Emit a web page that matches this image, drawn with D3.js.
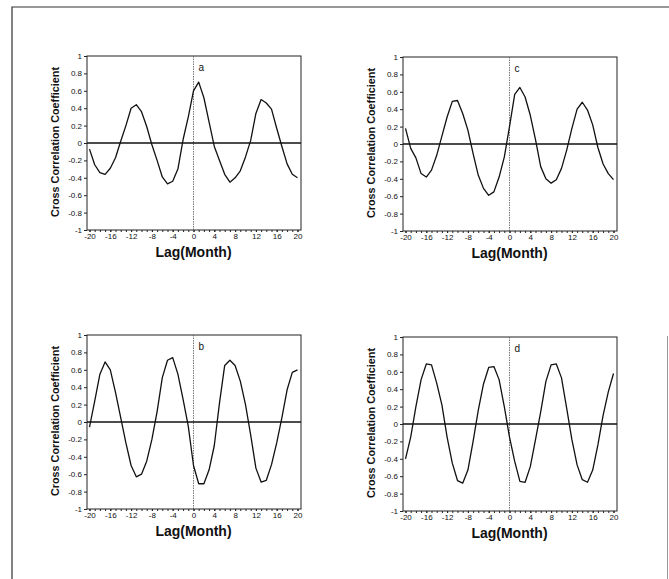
<!DOCTYPE html>
<html>
<head>
<meta charset="utf-8">
<script src="https://cdn.jsdelivr.net/npm/d3@7"></script>
<style>
  body { margin: 0; background: #fff; }
  svg { display: block; }
</style>
</head>
<body>
<div id="chart"></div>
<script>
// lag in months, -20 .. 20
const lags = [-20, -19, -18, -17, -16, -15, -14, -13, -12, -11, -10, -9, -8, -7, -6, -5, -4, -3, -2, -1,
  0, 1, 2, 3, 4, 5, 6, 7, 8, 9, 10, 11, 12, 13, 14, 15, 16, 17, 18, 19, 20];

// cross correlation values
const seriesA = [-0.07, -0.25, -0.34, -0.36, -0.29, -0.17, 0.02, 0.2, 0.4, 0.44, 0.36, 0.19, -0.02, -0.2, -0.39, -0.47, -0.44, -0.3, 0.04, 0.3,
  0.6, 0.7, 0.52, 0.24, -0.04, -0.2, -0.36, -0.45, -0.4, -0.32, -0.16, 0.03, 0.34, 0.5, 0.46, 0.39, 0.17, -0.04, -0.24, -0.36, -0.4];
const seriesB = [-0.06, 0.24, 0.55, 0.69, 0.6, 0.34, 0.05, -0.24, -0.5, -0.63, -0.6, -0.45, -0.2, 0.12, 0.51, 0.71, 0.74, 0.55, 0.26, -0.05,
  -0.5, -0.71, -0.71, -0.55, -0.27, 0.22, 0.65, 0.71, 0.65, 0.47, 0.2, -0.15, -0.53, -0.69, -0.67, -0.49, -0.24, 0.05, 0.37, 0.57, 0.6];
const seriesC = [0.18, -0.05, -0.16, -0.34, -0.38, -0.3, -0.13, 0.09, 0.31, 0.49, 0.5, 0.35, 0.16, -0.11, -0.36, -0.51, -0.59, -0.55, -0.38, -0.15,
  0.2, 0.57, 0.65, 0.54, 0.33, 0.05, -0.26, -0.4, -0.45, -0.41, -0.28, -0.07, 0.18, 0.4, 0.48, 0.39, 0.22, -0.04, -0.23, -0.34, -0.41];
const seriesD = [-0.4, -0.15, 0.2, 0.51, 0.69, 0.68, 0.47, 0.22, -0.15, -0.45, -0.65, -0.68, -0.53, -0.2, 0.16, 0.46, 0.65, 0.66, 0.51, 0.2,
  -0.15, -0.43, -0.66, -0.67, -0.49, -0.18, 0.14, 0.49, 0.68, 0.69, 0.53, 0.18, -0.18, -0.47, -0.64, -0.67, -0.53, -0.24, 0.1, 0.37, 0.58];

const panelLetters = ["a", "c", "b", "d"];

const xTicks = [-20, -16, -12, -8, -4, 0, 4, 8, 12, 16, 20];
const xTickLabels = ["-20", "-16", "-12", "-8", "-4", "0", "4", "8", "12", "16", "20"];
const yTicks = [1, 0.8, 0.6, 0.4, 0.2, 0, -0.2, -0.4, -0.6, -0.8, -1];
const yTickLabels = ["1", "0.8", "0.6", "0.4", "0.2", "0", "-0.2", "-0.4", "-0.6", "-0.8", "-1"];

const xTitle = "Lag(Month)";
const yTitle = "Cross Correlation Coefficient";

const W = 669, H = 579;
const frameW = 214, frameH = 174;

const svg = d3.select("#chart")
  .append("svg")
  .attr("width", W)
  .attr("height", H)
  .style("font-family", "Arial, 'Liberation Sans', Helvetica, sans-serif");

// page border (top, left, partial right)
svg.append("path")
  .attr("d", "M12,579 L12,7 L669,7")
  .attr("fill", "none")
  .attr("stroke", "#333")
  .attr("stroke-width", 1.2);
svg.append("line")
  .attr("x1", 667.5).attr("x2", 667.5)
  .attr("y1", 336).attr("y2", 579)
  .attr("stroke", "#999")
  .attr("stroke-width", 1);

const panels = [
  { values: seriesA, left: 87, top: 56 },
  { values: seriesC, left: 403, top: 57 },
  { values: seriesB, left: 87, top: 335 },
  { values: seriesD, left: 403, top: 337 }
];

panels.forEach((p, i) => {
  const g = svg.append("g").attr("transform", `translate(${p.left},${p.top})`);

  const x = d3.scaleLinear().domain([-20, 20]).range([2.5, frameW - 3.5]);
  const y = d3.scaleLinear().domain([-1, 1]).range([frameH, 0]);

  // minor ticks, one per month
  g.append("g")
    .attr("transform", `translate(0,${frameH})`)
    .call(d3.axisBottom(x).tickValues(lags).tickSize(2).tickFormat(""))
    .call(s => s.select(".domain").remove())
    .selectAll("line").attr("stroke", "#222");

  // major x ticks with labels
  g.append("g")
    .attr("transform", `translate(0,${frameH})`)
    .call(d3.axisBottom(x).tickValues(xTicks).tickSize(2).tickPadding(1)
      .tickFormat((d, k) => xTickLabels[k]))
    .call(s => s.select(".domain").remove())
    .call(s => s.selectAll("line").attr("stroke", "#222"))
    .selectAll("text")
    .style("font-size", "8px")
    .style("font-family", "Arial, 'Liberation Sans', sans-serif")
    .attr("fill", "#111");

  // y axis
  g.append("g")
    .call(d3.axisLeft(y).tickValues(yTicks).tickSize(3).tickPadding(2)
      .tickFormat((d, k) => yTickLabels[k]))
    .call(s => s.select(".domain").remove())
    .call(s => s.selectAll("line").attr("stroke", "#222"))
    .selectAll("text")
    .style("font-size", "8px")
    .style("font-family", "Arial, 'Liberation Sans', sans-serif")
    .attr("fill", "#111");

  // frame
  g.append("rect")
    .attr("x", 0).attr("y", 0)
    .attr("width", frameW).attr("height", frameH)
    .attr("fill", "none")
    .attr("stroke", "#222")
    .attr("stroke-width", 1);

  // vertical reference at lag 0
  g.append("line")
    .attr("x1", x(0)).attr("x2", x(0))
    .attr("y1", 0).attr("y2", frameH)
    .attr("stroke", "#555")
    .attr("stroke-width", 0.8)
    .attr("stroke-dasharray", "1.5,1");

  // zero line
  g.append("line")
    .attr("x1", 0).attr("x2", frameW)
    .attr("y1", y(0)).attr("y2", y(0))
    .attr("stroke", "#111")
    .attr("stroke-width", 1.4);

  // series
  const line = d3.line()
    .x((d, k) => x(lags[k]))
    .y(d => y(d));
  g.append("path")
    .datum(p.values)
    .attr("d", line)
    .attr("fill", "none")
    .attr("stroke", "#111")
    .attr("stroke-width", 1.3)
    .attr("stroke-linejoin", "round");

  // panel letter
  g.append("text")
    .attr("x", x(0) + 5)
    .attr("y", 15)
    .style("font-size", "10px")
    .attr("fill", "#111")
    .text(panelLetters[i]);

  // x title
  g.append("text")
    .attr("x", x(0))
    .attr("y", frameH + 27)
    .attr("text-anchor", "middle")
    .style("font-size", "14px")
    .style("font-weight", "bold")
    .attr("fill", "#111")
    .text(xTitle);

  // y title
  g.append("text")
    .attr("transform", `translate(-28,${frameH / 2 - 1}) rotate(-90)`)
    .attr("text-anchor", "middle")
    .style("font-size", "10.8px")
    .style("font-weight", "bold")
    .attr("fill", "#111")
    .text(yTitle);
});
</script>
</body>
</html>
